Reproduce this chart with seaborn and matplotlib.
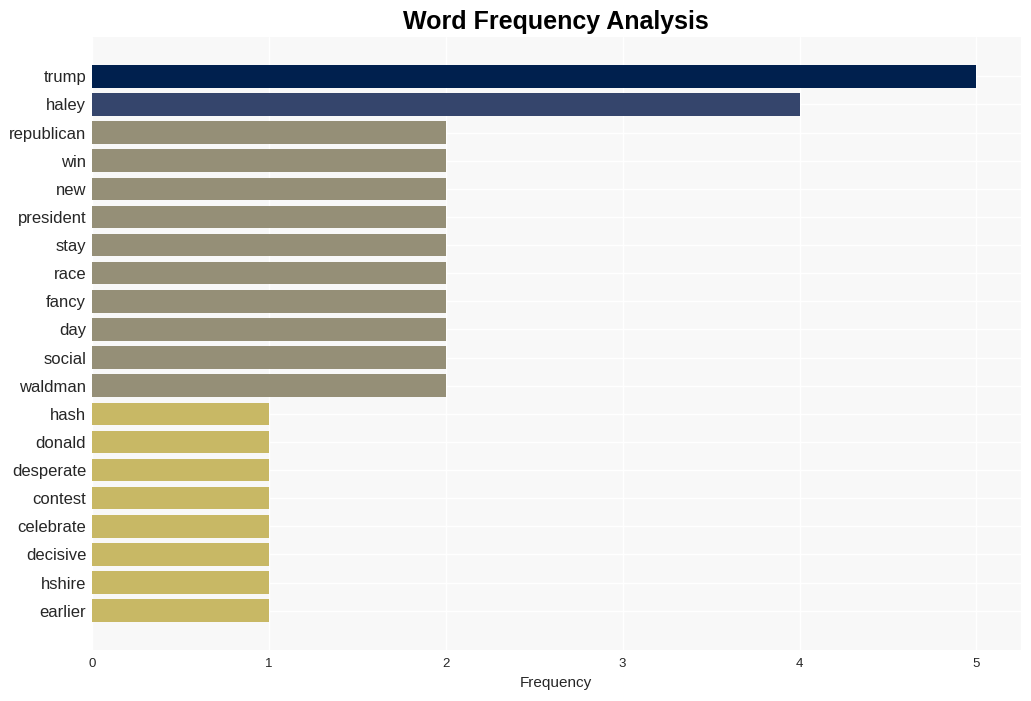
import matplotlib
matplotlib.use("Agg")
import matplotlib.pyplot as plt
import seaborn as sns
import pandas as pd

words = ["trump", "haley", "republican", "win", "new", "president", "stay", "race",
         "fancy", "day", "social", "waldman", "hash", "donald", "desperate", "contest",
         "celebrate", "decisive", "hshire", "earlier"]
counts = [5, 4, 2, 2, 2, 2, 2, 2, 2, 2, 2, 2, 1, 1, 1, 1, 1, 1, 1, 1]
bar_colors = ["#00204e", "#35456c"] + ["#958f77"] * 10 + ["#c8b865"] * 8

sns.set_theme(style="whitegrid")
plt.rcParams["font.family"] = ["Liberation Sans", "DejaVu Sans"]

df = pd.DataFrame({"word": words, "count": counts})

fig, ax = plt.subplots(figsize=(10.31, 7.01), dpi=100)
fig.subplots_adjust(left=0.089, right=0.99, top=0.947, bottom=0.073)
ax.set_facecolor("#f8f8f8")

sns.barplot(data=df, x="count", y="word", hue="word", palette=bar_colors,
            legend=False, orient="h", width=0.8, saturation=1, linewidth=0, ax=ax)

ax.set_xlim(0, 5.25)
ax.set_ylim(len(words) - 1 + 1.39, -1.39)
ax.grid(True, color="white", linewidth=1)
ax.set_axisbelow(True)
for s in ax.spines.values():
    s.set_visible(False)

ax.set_title("Word Frequency Analysis", fontsize=18, fontweight="bold", pad=6, color="black")
ax.set_xlabel("Frequency", fontsize=11, color="#262626")
ax.set_ylabel("")
ax.tick_params(axis="y", labelsize=12, colors="#262626", length=0, pad=4)
ax.tick_params(axis="x", labelsize=9.5, colors="#262626", length=0, pad=6)

fig.savefig("out.png", dpi=100)
